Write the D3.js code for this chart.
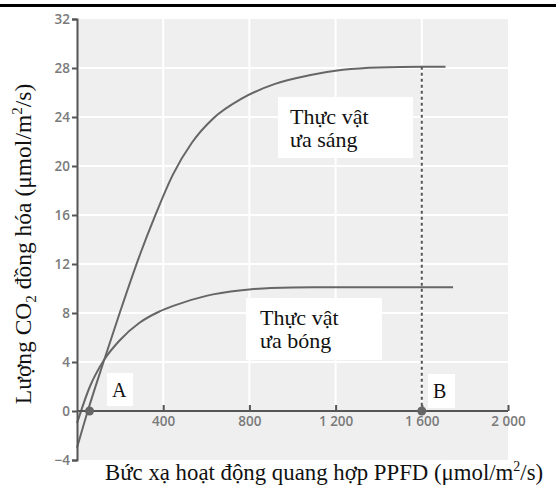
<!DOCTYPE html>
<html lang="vi">
  <head>
    <meta charset="UTF-8" />
    <title>Cường độ quang hợp</title>
    <script src="https://d3js.org/d3.v7.min.js"></script>
    <style>
      body {
        margin: 0;
        background: #fff;
      }
      .serif {
        font-family: "Liberation Serif", "Times New Roman", serif;
        fill: #111;
      }
    </style>
  </head>
  <body>
    <svg width="556" height="487"></svg>

    <script>
      // trục
      const xTicks = [400, 800, 1200, 1600, 2000];
      const xTickLabels = ["400", "800", "1 200", "1 600", "2 000"];
      const yTicks = [-4, 0, 4, 8, 12, 16, 20, 24, 28, 32];

      // thực vật ưa sáng
      const sunX = [0, 50, 123, 200, 295, 357, 445, 533, 633, 764, 919, 1078, 1233, 1400, 1600, 1710];
      const sunY = [-3, 0, 4, 8.1, 12.9, 15.7, 19.3, 21.9, 23.9, 25.5, 26.7, 27.4, 27.85, 28.05, 28.1, 28.1];

      // thực vật ưa bóng
      const shadeX = [0, 60, 123, 200, 290, 380, 450, 600, 764, 900, 1100, 1745];
      const shadeY = [-1, 2.0, 4.1, 5.8, 7.2, 8.1, 8.6, 9.4, 9.85, 10.05, 10.1, 10.1];

      // điểm A (bù) và B (bão hòa)
      const pointA = 58;
      const pointB = 1600;

      const svg = d3.select("svg");

      const x = d3.scaleLinear().domain([0, 2000]).range([77, 508]);
      const y = d3.scaleLinear().domain([-4, 32]).range([460, 19]);

      // đường kẻ đen phía trên
      svg.append("rect").attr("x", 0).attr("y", 4).attr("width", 556).attr("height", 3).attr("fill", "#000");

      // nền xám
      svg
        .append("rect")
        .attr("x", x(0))
        .attr("y", y(32))
        .attr("width", x(2000) - x(0))
        .attr("height", y(-4) - y(32))
        .attr("fill", "#efefef");

      // lưới trắng
      const grid = svg.append("g").attr("stroke", "#fff").attr("stroke-width", 2);
      grid
        .selectAll("line.v")
        .data(xTicks.slice(0, 4))
        .enter()
        .append("line")
        .attr("x1", (d) => x(d))
        .attr("x2", (d) => x(d))
        .attr("y1", y(32))
        .attr("y2", y(0));
      grid
        .selectAll("line.h")
        .data(yTicks.filter((d) => d > 0 && d < 32))
        .enter()
        .append("line")
        .attr("x1", x(0))
        .attr("x2", x(2000))
        .attr("y1", (d) => y(d))
        .attr("y2", (d) => y(d));

      // đường cong
      const line = d3
        .line()
        .x((d) => x(d[0]))
        .y((d) => y(d[1]))
        .curve(d3.curveMonotoneX);

      const curves = [d3.zip(sunX, sunY), d3.zip(shadeX, shadeY)];
      svg
        .append("g")
        .selectAll("path")
        .data(curves)
        .enter()
        .append("path")
        .attr("d", line)
        .attr("fill", "none")
        .attr("stroke", "#666")
        .attr("stroke-width", 2);

      // đường nét đứt tại B
      svg
        .append("line")
        .attr("x1", x(pointB))
        .attr("x2", x(pointB))
        .attr("y1", y(28.1))
        .attr("y2", y(0))
        .attr("stroke", "#555")
        .attr("stroke-width", 2)
        .attr("stroke-dasharray", "3,3");

      // trục
      const yAxis = svg
        .append("g")
        .attr("transform", `translate(${x(0)},0)`)
        .call(d3.axisLeft(y).tickValues(yTicks).tickSize(5).tickPadding(2).tickFormat(d3.format("d")));
      const xAxis = svg
        .append("g")
        .attr("transform", `translate(0,${y(0)})`)
        .call(
          d3
            .axisBottom(x)
            .tickValues(xTicks)
            .tickSizeInner(-6)
            .tickSizeOuter(0)
            .tickPadding(5)
            .tickFormat((d, i) => xTickLabels[i])
        );
      [yAxis, xAxis].forEach((g) => {
        g.attr("font-family", "'Open Sans', sans-serif").attr("font-size", 13.5);
        g.select(".domain").attr("stroke", "#555").attr("stroke-width", 2);
        g.selectAll(".tick line").attr("stroke", "#555").attr("stroke-width", 2);
        g.selectAll(".tick text").attr("fill", "#7a7a7a").attr("font-weight", 600);
      });
      xAxis.select(".domain").attr("d", `M${x(0)},0H${x(2000)}`);

      // điểm A, B
      svg
        .append("g")
        .selectAll("circle")
        .data([pointA, pointB])
        .enter()
        .append("circle")
        .attr("cx", (d) => x(d))
        .attr("cy", y(0))
        .attr("r", 4.5)
        .attr("fill", "#666");

      // nhãn trong hộp trắng
      function label(bx, by, bw, bh, lines, tx, ty, size) {
        svg.append("rect").attr("x", bx).attr("y", by).attr("width", bw).attr("height", bh).attr("fill", "#fff");
        const t = svg.append("text").attr("class", "serif").attr("font-size", size);
        lines.forEach((s, i) => {
          t.append("tspan").attr("x", tx).attr("y", ty + i * 23).text(s);
        });
      }
      label(278, 97, 135, 61, ["Thực vật", "ưa sáng"], 290, 124, 22);
      label(246, 298, 136, 62, ["Thực vật", "ưa bóng"], 260, 325, 22);
      label(107, 373, 26, 33, ["A"], 112, 397, 20);
      label(428, 374, 27, 34, ["B"], 433, 398, 20);

      // tiêu đề trục
      const xt = svg
        .append("text")
        .attr("class", "serif")
        .attr("font-size", 22.8)
        .attr("x", 105)
        .attr("y", 480);
      xt.append("tspan").text("Bức xạ hoạt động quang hợp PPFD (μmol/m");
      xt.append("tspan").attr("font-size", 14).attr("dy", -9).text("2");
      xt.append("tspan").attr("dy", 9).text("/s)");

      const yt = svg
        .append("text")
        .attr("class", "serif")
        .attr("font-size", 23.5)
        .attr("text-anchor", "middle")
        .attr("transform", "translate(31,244) rotate(-90)");
      yt.append("tspan").text("Lượng CO");
      yt.append("tspan").attr("font-size", 15).attr("dy", 5).text("2");
      yt.append("tspan").attr("dy", -5).text(" đồng hóa (μmol/m");
      yt.append("tspan").attr("font-size", 15).attr("dy", -9).text("2");
      yt.append("tspan").attr("dy", 9).text("/s)");
    </script>
  </body>
</html>
